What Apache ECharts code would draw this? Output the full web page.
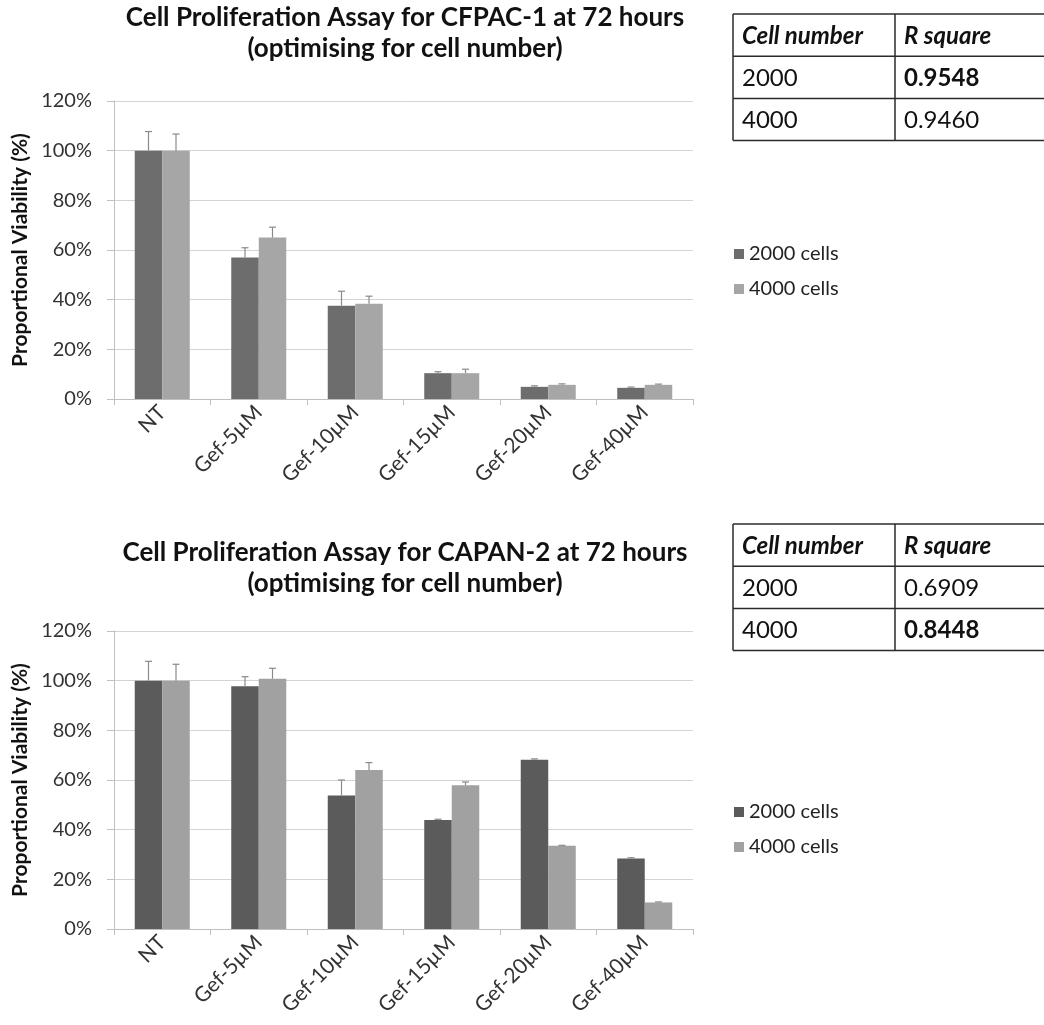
<!DOCTYPE html>
<html>
<head>
<meta charset="utf-8">
<script src="https://cdn.jsdelivr.net/npm/echarts@6/dist/echarts.min.js"></script>
<style>
  html, body { margin: 0; padding: 0; background: #fff; }
  #chart { width: 1044px; height: 1025px; }
</style>
</head>
<body>
<div id="chart"></div>
<script>
// Treatments along the x axis
const categories = ['NT', 'Gef-5µM', 'Gef-10µM', 'Gef-15µM', 'Gef-20µM', 'Gef-40µM'];
const seriesNames = ['2000 cells', '4000 cells'];
const yTicks = [0, 20, 40, 60, 80, 100, 120];

// CFPAC-1, viability (%) and upper error
const cfpac2000 = [100, 57.0, 37.6, 10.4, 4.9, 4.5];
const cfpac4000 = [100, 65.0, 38.4, 10.4, 5.7, 5.7];
const cfpac2000Err = [7.7, 3.9, 5.8, 0.6, 0.4, 0.3];
const cfpac4000Err = [6.7, 4.2, 3.0, 1.6, 0.4, 0.3];

// CAPAN-2, viability (%) and upper error
const capan2000 = [100, 97.8, 53.8, 43.9, 68.2, 28.4];
const capan4000 = [100, 100.8, 64.0, 57.9, 33.5, 10.7];
const capan2000Err = [7.8, 3.8, 6.2, 0.3, 0.3, 0.3];
const capan4000Err = [6.6, 4.2, 3.0, 1.3, 0.2, 0.2];

// Goodness of fit tables
const tableHeader = ['Cell number', 'R square'];
const cellNumbers = ['2000', '4000'];
const cfpacRSquare = ['0.9548', '0.9460'];
const capanRSquare = ['0.6909', '0.8448'];

const titles = [
  ['Cell Proliferation Assay for CFPAC-1 at 72 hours', '(optimising for cell number)'],
  ['Cell Proliferation Assay for CAPAN-2 at 72 hours', '(optimising for cell number)']
];

const FONT = 'Lato, "Open Sans", sans-serif';
const BAR_GAP_CAT = 0.43;
const colors = [
  { dark: '#6d6d6d', light: '#a6a6a6' },
  { dark: '#5b5b5b', light: '#a1a1a1' }
];

// panel layout
const panels = [
  { top: 101, titleY: 18, legendTop: 239, tableTop: 14 },
  { top: 631, titleY: 553, legendTop: 797, tableTop: 524 }
];
const gridLeft = 114, gridWidth = 579, gridHeight = 298;

function errorSeries(name, axisIdx, values, errs, side, color) {
  return {
    name: name,
    type: 'custom',
    xAxisIndex: axisIdx,
    yAxisIndex: axisIdx,
    z: 5,
    silent: true,
    data: values.map((v, i) => [i, v, errs[i]]),
    encode: { x: 0, y: 1 },
    renderItem: function (params, api) {
      const i = api.value(0), v = api.value(1), e = api.value(2);
      const band = api.size([1, 0])[0];
      const barW = band * (1 - BAR_GAP_CAT) / 2;
      const base = api.coord([i, v]);
      const top = api.coord([i, v + e]);
      const x = base[0] + side * barW / 2;
      const cap = 3.5;
      return {
        type: 'group',
        children: [
          { type: 'line', shape: { x1: x, y1: base[1], x2: x, y2: top[1] },
            style: { stroke: color, lineWidth: 1.2 } },
          { type: 'line', shape: { x1: x - cap, y1: top[1], x2: x + cap, y2: top[1] },
            style: { stroke: color, lineWidth: 1.2 } }
        ]
      };
    }
  };
}

const datasets = [
  { a: cfpac2000, b: cfpac4000, ea: cfpac2000Err, eb: cfpac4000Err },
  { a: capan2000, b: capan4000, ea: capan2000Err, eb: capan4000Err }
];

const grid = [], xAxis = [], yAxis = [], series = [], legend = [], graphic = [];

panels.forEach((p, k) => {
  grid.push({ left: gridLeft, top: p.top, width: gridWidth, height: gridHeight, containLabel: false });
  xAxis.push({
    type: 'category', gridIndex: k, data: categories,
    axisLine: { lineStyle: { color: '#bfbfbf', width: 1 } },
    axisTick: { show: true, length: 6, interval: 0, alignWithLabel: false, lineStyle: { color: '#bfbfbf' } },
    axisLabel: { rotate: 45, interval: 0, margin: 10, fontFamily: FONT, fontSize: 21, color: '#333' }
  });
  yAxis.push({
    type: 'value', gridIndex: k, min: yTicks[0], max: yTicks[yTicks.length - 1], interval: yTicks[1] - yTicks[0],
    name: 'Proportional Viability (%)', nameLocation: 'middle', nameRotate: 90, nameGap: 80,
    nameTextStyle: { fontFamily: FONT, fontSize: 21, fontWeight: 'bold', color: '#111' },
    axisLine: { show: true, lineStyle: { color: '#bfbfbf' } },
    axisTick: { show: true, length: 7, lineStyle: { color: '#bfbfbf' } },
    splitLine: { lineStyle: { color: '#d3d3d3' } },
    axisLabel: { formatter: '{value}%', margin: 22, fontFamily: FONT, fontSize: 20, color: '#333' }
  });
  const d = datasets[k], c = colors[k];
  series.push({
    name: seriesNames[0], type: 'bar', xAxisIndex: k, yAxisIndex: k, data: d.a,
    barGap: '0%', barCategoryGap: (BAR_GAP_CAT * 100) + '%', itemStyle: { color: c.dark }
  });
  series.push({
    name: seriesNames[1], type: 'bar', xAxisIndex: k, yAxisIndex: k, data: d.b,
    barGap: '0%', barCategoryGap: (BAR_GAP_CAT * 100) + '%', itemStyle: { color: c.light }
  });
  series.push(errorSeries('err-a-' + k, k, d.a, d.ea, -1, '#8a8a8a'));
  series.push(errorSeries('err-b-' + k, k, d.b, d.eb, 1, '#8a8a8a'));

  legend.push({
    orient: 'vertical', left: 729, top: p.legendTop, icon: 'rect',
    itemWidth: 10, itemHeight: 10, itemGap: 15,
    selectedMode: false,
    textStyle: { fontFamily: FONT, fontSize: 20, color: '#222' },
    data: [
      { name: seriesNames[0], itemStyle: { color: c.dark } },
      { name: seriesNames[1], itemStyle: { color: c.light } }
    ]
  });

  // two-line title
  titles[k].forEach((t, j) => {
    graphic.push({
      type: 'text', x: 405, y: p.titleY + j * 31,
      style: { text: t, align: 'center', verticalAlign: 'middle', fontFamily: FONT,
               fontSize: 26, fontWeight: 'bold', fill: '#111' }
    });
  });

  // R square table
  const rs = k === 0 ? cfpacRSquare : capanRSquare;
  const best = Math.max.apply(null, rs.map(Number));
  const tx = 733, colX = 895, tRight = 1046, rowH = 42.2;
  const rows = [tableHeader].concat(cellNumbers.map((n, i) => [n, rs[i]]));
  for (let r = 0; r <= rows.length; r++) {
    const y = p.tableTop + r * rowH;
    graphic.push({ type: 'line', shape: { x1: tx, y1: y, x2: tRight, y2: y },
                   style: { stroke: '#2b2b2b', lineWidth: 1.5 } });
  }
  [tx, colX].forEach(x => {
    graphic.push({ type: 'line', shape: { x1: x, y1: p.tableTop, x2: x, y2: p.tableTop + rows.length * rowH },
                   style: { stroke: '#2b2b2b', lineWidth: 1.5 } });
  });
  rows.forEach((row, r) => {
    const cy = p.tableTop + r * rowH + rowH / 2 + 1;
    row.forEach((cell, ci) => {
      const isHeader = r === 0;
      const isBest = !isHeader && ci === 1 && Number(cell) === best;
      graphic.push({
        type: 'text', x: (ci === 0 ? tx : colX) + 9, y: cy,
        style: { text: cell, align: 'left', verticalAlign: 'middle', fontFamily: FONT, fontSize: 24,
                 fontWeight: (isHeader || isBest) ? 'bold' : 'normal',
                 fontStyle: isHeader ? 'italic' : 'normal', fill: '#111' }
      });
    });
  });
});

const chart = echarts.init(document.getElementById('chart'), null, { renderer: 'canvas' });
chart.setOption({
  animation: false,
  backgroundColor: '#ffffff',
  grid, xAxis, yAxis, series, legend, graphic
});
</script>
</body>
</html>
